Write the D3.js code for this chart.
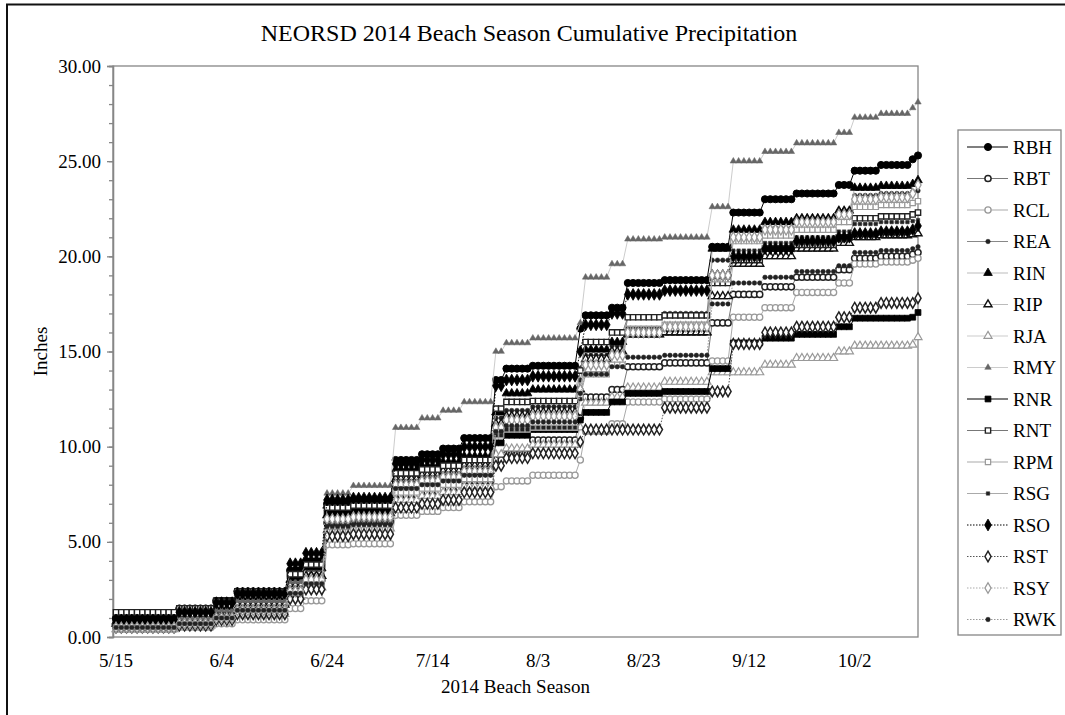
<!DOCTYPE html>
<html>
<head>
<meta charset="utf-8">
<script src="https://cdn.jsdelivr.net/npm/d3@7"></script>
<style>
  body { margin: 0; background: #fff; }
  svg { display: block; font-family: "Liberation Serif", "Times New Roman", serif; }
</style>
</head>
<body>
<script>
// gauges, in legend order
const seriesNames = ["RBH", "RBT", "RCL", "REA", "RIN", "RIP", "RJA", "RMY",
                     "RNR", "RNT", "RPM", "RSG", "RSO", "RST", "RSY", "RWK"];

const seasonStart = "2014-05-15";
const seasonEnd = "2014-10-14";

// days after 5/15 on which the totals changed
const eventDays = [0, 12, 19, 23, 33, 36, 40, 45, 53, 58, 62, 66, 72, 74, 79,
                   88, 89, 94, 97, 104, 113, 117, 123, 129, 137, 140, 145, 151, 152];

// cumulative inches from each event day on
const RBH = [1.0, 1.5, 1.9, 2.4, 3.5, 4.0, 7.0, 7.2, 9.3, 9.6, 9.9, 10.45, 13.5, 14.1, 14.25, 16.2, 16.9, 17.3, 18.6, 18.75, 20.5, 22.3, 23.0, 23.3, 23.75, 24.5, 24.8, 25.1, 25.3];
const RBT = [0.6, 0.8, 1.1, 1.5, 2.5, 3.0, 6.0, 6.05, 7.45, 7.6, 7.8, 8.2, 9.3, 9.6, 10.35, 11.5, 12.6, 13.0, 14.2, 14.4, 16.5, 18.0, 18.4, 18.9, 19.3, 19.9, 20.0, 20.1, 20.2];
const RCL = [0.4, 0.5, 0.7, 0.9, 1.5, 1.9, 4.85, 4.9, 6.4, 6.6, 6.8, 7.1, 7.9, 8.2, 8.5, 9.3, 10.8, 11.2, 12.35, 12.5, 14.5, 16.8, 17.3, 18.1, 18.6, 19.6, 19.7, 19.8, 19.9];
const REA = [0.7, 0.9, 1.3, 1.8, 2.8, 3.3, 6.6, 6.7, 8.5, 8.7, 8.9, 9.2, 11.5, 11.9, 12.1, 13.5, 14.8, 15.3, 16.8, 17.0, 19.8, 21.0, 21.5, 21.9, 22.4, 23.2, 23.3, 23.4, 23.45];
const RIN = [0.8, 1.0, 1.5, 2.0, 3.0, 3.6, 6.9, 7.0, 8.8, 9.0, 9.2, 9.5, 11.8, 12.8, 13.0, 14.0, 15.1, 15.5, 15.9, 16.0, 20.4, 21.4, 21.8, 22.0, 22.4, 23.6, 23.7, 23.8, 24.0];
const RIP = [0.7, 0.9, 1.3, 1.7, 2.7, 3.2, 6.4, 6.5, 8.3, 8.5, 8.7, 9.0, 11.2, 11.6, 11.8, 13.0, 14.6, 15.0, 15.9, 16.0, 17.9, 19.6, 20.0, 20.4, 20.7, 21.0, 21.1, 21.15, 21.2];
const RJA = [0.4, 0.6, 0.9, 1.2, 2.1, 2.6, 5.6, 5.7, 7.2, 7.4, 7.6, 7.9, 9.6, 9.9, 10.1, 11.0, 12.3, 12.6, 13.1, 13.4, 13.9, 13.9, 14.3, 14.65, 15.0, 15.3, 15.3, 15.35, 15.75];
const RMY = [0.8, 1.0, 1.4, 1.9, 2.9, 3.6, 7.55, 7.95, 11.0, 11.5, 11.9, 12.35, 15.0, 15.45, 15.7, 16.5, 18.9, 19.6, 20.9, 21.0, 22.6, 25.0, 25.5, 25.95, 26.5, 27.3, 27.5, 27.8, 28.1];
const RNR = [0.8, 1.4, 1.9, 2.3, 3.2, 3.7, 6.5, 6.6, 8.0, 8.2, 8.4, 8.7, 10.2, 10.6, 10.9, 11.4, 11.8, 12.35, 12.8, 12.9, 14.1, 15.45, 15.7, 15.9, 16.3, 16.75, 16.75, 16.8, 17.05];
const RNT = [1.3, 1.5, 1.9, 2.4, 3.3, 3.8, 6.8, 6.9, 8.6, 8.8, 9.0, 9.3, 12.0, 12.35, 12.4, 14.0, 15.5, 16.0, 16.8, 16.9, 18.6, 19.8, 20.4, 20.6, 21.0, 22.0, 22.1, 22.2, 22.3];
const RPM = [0.5, 0.6, 0.9, 1.3, 2.2, 2.8, 5.5, 5.6, 7.6, 7.8, 8.0, 8.3, 10.6, 10.9, 11.0, 12.6, 13.8, 14.3, 16.2, 16.4, 18.8, 20.8, 21.1, 21.4, 21.8, 22.6, 22.7, 22.8, 22.9];
const RSG = [0.6, 0.8, 1.2, 1.6, 2.6, 3.1, 6.0, 6.1, 8.2, 8.4, 8.6, 8.9, 10.6, 10.9, 11.0, 12.5, 14.4, 14.9, 16.2, 16.3, 18.9, 20.3, 20.7, 21.0, 21.3, 21.7, 21.8, 21.85, 21.9];
const RSO = [0.9, 1.3, 1.8, 2.3, 3.85, 4.4, 7.2, 7.3, 9.1, 9.3, 9.6, 10.0, 13.2, 13.5, 13.7, 15.0, 16.4, 17.0, 18.0, 18.2, 19.0, 20.0, 20.4, 20.8, 21.0, 21.2, 21.3, 21.4, 21.6];
const RST = [0.5, 0.6, 0.9, 1.2, 2.0, 2.5, 5.3, 5.4, 6.8, 7.0, 7.2, 7.6, 9.0, 9.4, 9.65, 10.25, 10.9, 10.9, 10.9, 12.05, 12.9, 15.4, 16.0, 16.3, 16.8, 17.3, 17.55, 17.55, 17.8];
const RSY = [0.5, 0.7, 1.0, 1.4, 2.4, 3.0, 6.2, 6.3, 8.0, 8.2, 8.4, 8.7, 11.0, 11.4, 11.6, 13.0, 14.3, 14.8, 16.0, 16.3, 19.0, 21.0, 21.4, 21.8, 22.2, 23.0, 23.1, 23.3, 23.75];
const RWK = [0.5, 0.7, 1.0, 1.4, 2.3, 2.8, 5.8, 5.9, 7.8, 8.0, 8.2, 8.5, 10.8, 11.1, 11.3, 12.8, 13.8, 14.2, 14.7, 14.8, 17.5, 18.6, 18.9, 19.2, 19.5, 20.2, 20.3, 20.4, 20.5];

const xTickLabels = ["5/15", "6/4", "6/24", "7/14", "8/3", "8/23", "9/12", "10/2"];
const yTickValues = [0, 5, 10, 15, 20, 25, 30];

const seriesValues = {RBH, RBT, RCL, REA, RIN, RIP, RJA, RMY, RNR, RNT, RPM, RSG, RSO, RST, RSY, RWK};

// marker / line look per gauge
const look = {
    RBH: {sym: d3.symbolCircle,   size: 40, fill: "#000", stroke: "#000", sw: 1,   line: "#000", dash: null},
    RBT: {sym: d3.symbolCircle,   size: 30, fill: "#fff", stroke: "#222", sw: 1.5, line: "#777", dash: null},
    RCL: {sym: d3.symbolCircle,   size: 30, fill: "#fff", stroke: "#999", sw: 1.3, line: "#aaa", dash: null},
    REA: {sym: d3.symbolCircle,   size: 16, fill: "#222", stroke: "#222", sw: 0.5, line: "#888", dash: null},
    RIN: {sym: d3.symbolTriangle, size: 32, fill: "#000", stroke: "#000", sw: 0.8, line: "#bbb", dash: null},
    RIP: {sym: d3.symbolTriangle, size: 28, fill: "#fff", stroke: "#111", sw: 1.4, line: "#bbb", dash: null},
    RJA: {sym: d3.symbolTriangle, size: 28, fill: "#fff", stroke: "#999", sw: 1.2, line: "#ccc", dash: null},
    RMY: {sym: d3.symbolTriangle, size: 18, fill: "#666", stroke: "#666", sw: 0.5, line: "#ccc", dash: null},
    RNR: {sym: d3.symbolSquare,   size: 34, fill: "#000", stroke: "#000", sw: 0.8, line: "#000", dash: null},
    RNT: {sym: d3.symbolSquare,   size: 28, fill: "#fff", stroke: "#222", sw: 1.4, line: "#777", dash: null},
    RPM: {sym: d3.symbolSquare,   size: 28, fill: "#fff", stroke: "#999", sw: 1.2, line: "#aaa", dash: null},
    RSG: {sym: d3.symbolSquare,   size: 12, fill: "#222", stroke: "#222", sw: 0.5, line: "#aaa", dash: null},
    RSO: {sym: d3.symbolDiamond,  size: 40, fill: "#000", stroke: "#000", sw: 0.8, line: "#000", dash: "1.5,1.5"},
    RST: {sym: d3.symbolDiamond,  size: 32, fill: "#fff", stroke: "#222", sw: 1.5, line: "#555", dash: "1.5,1.5"},
    RSY: {sym: d3.symbolDiamond,  size: 32, fill: "#fff", stroke: "#999", sw: 1.3, line: "#aaa", dash: "1.5,1.5"},
    RWK: {sym: d3.symbolCircle,   size: 16, fill: "#222", stroke: "#222", sw: 0.5, line: "#999", dash: "1.5,1.5"}
};

const width = 1065, height = 715;
const plot = {left: 113, right: 918, top: 66, bottom: 637};

const parseDay = d3.timeParse("%Y-%m-%d");
const start = parseDay(seasonStart);
const end = parseDay(seasonEnd);
const days = d3.timeDay.range(start, d3.timeDay.offset(end, 1));

// the total only moves on an event day, so hold it in between
const daily = levels => days.map((date, i) => ({
    date,
    value: levels[d3.bisectRight(eventDays, i) - 1]
}));

const series = seriesNames.map(name => ({name, values: daily(seriesValues[name])}));

const x = d3.scaleTime().domain([start, end]).range([116, plot.right]);
const y = d3.scaleLinear().domain([0, 30]).range([plot.bottom, plot.top]);

const svg = d3.select("body").append("svg")
    .attr("width", width)
    .attr("height", height);

// chart frame
svg.append("rect")
    .attr("x", 7).attr("y", 4.5)
    .attr("width", 1100).attr("height", 800)
    .attr("fill", "#fff")
    .attr("stroke", "#111")
    .attr("stroke-width", 2);

svg.append("text")
    .attr("x", 529).attr("y", 41)
    .attr("text-anchor", "middle")
    .style("font-size", "24px")
    .text("NEORSD 2014 Beach Season Cumulative Precipitation");

// plot box
svg.append("rect")
    .attr("x", plot.left).attr("y", plot.top)
    .attr("width", plot.right - plot.left).attr("height", plot.bottom - plot.top)
    .attr("fill", "none")
    .attr("stroke", "#868686")
    .attr("stroke-width", 1.3);

// y axis
const yAxis = svg.append("g")
    .attr("transform", `translate(${plot.left},0)`)
    .call(d3.axisLeft(y).tickValues(yTickValues).tickFormat(d3.format(".2f")).tickSize(6).tickPadding(6));
svg.append("g")
    .attr("transform", `translate(${plot.left},0)`)
    .call(d3.axisLeft(y).tickValues(d3.range(0, 31, 1)).tickFormat("").tickSize(4));
svg.selectAll(".domain, .tick line").attr("stroke", "#868686").attr("stroke-width", 1.3);
yAxis.selectAll("text").style("font-size", "19px").attr("fill", "#000")
    .style("font-family", "'Liberation Serif', 'Times New Roman', serif");

// x axis labels
const fmt = d3.timeFormat("%-m/%-d");
const xTicks = days.filter(d => xTickLabels.includes(fmt(d)));
svg.append("g").selectAll("text")
    .data(xTicks)
    .join("text")
    .attr("x", d => x(d))
    .attr("y", 667)
    .attr("text-anchor", "middle")
    .style("font-size", "19px")
    .text(d => fmt(d));

svg.append("text")
    .attr("x", (plot.left + plot.right) / 2).attr("y", 693)
    .attr("text-anchor", "middle")
    .style("font-size", "19px")
    .text("2014 Beach Season");

svg.append("text")
    .attr("transform", `translate(47,${(plot.top + plot.bottom) / 2}) rotate(-90)`)
    .attr("text-anchor", "middle")
    .style("font-size", "19px")
    .text("Inches");

// series
const line = d3.line()
    .x(d => x(d.date))
    .y(d => y(d.value));

const gauge = svg.append("g").selectAll("g")
    .data(series)
    .join("g");

gauge.append("path")
    .attr("d", d => line(d.values))
    .attr("fill", "none")
    .attr("stroke", d => look[d.name].line)
    .attr("stroke-width", 1)
    .attr("stroke-dasharray", d => look[d.name].dash);

gauge.each(function(s) {
    const st = look[s.name];
    const sym = d3.symbol(st.sym, st.size)();
    d3.select(this).selectAll(".mark")
        .data(s.values)
        .join("path")
        .attr("class", "mark")
        .attr("transform", d => `translate(${x(d.date)},${y(d.value)})`)
        .attr("d", sym)
        .attr("fill", st.fill)
        .attr("stroke", st.stroke)
        .attr("stroke-width", st.sw);
});

// legend
const legend = svg.append("g");
legend.append("rect")
    .attr("x", 958).attr("y", 130)
    .attr("width", 103).attr("height", 505)
    .attr("fill", "#fff")
    .attr("stroke", "#868686")
    .attr("stroke-width", 1.3);

const item = legend.selectAll(".item")
    .data(seriesNames)
    .join("g")
    .attr("class", "item")
    .attr("transform", (d, i) => `translate(0,${147 + i * 31.5})`);

item.append("line")
    .attr("x1", 967).attr("x2", 1008)
    .attr("stroke", d => look[d].line)
    .attr("stroke-width", 1.2)
    .attr("stroke-dasharray", d => look[d].dash);

item.append("path")
    .attr("transform", "translate(988,0)")
    .attr("d", d => d3.symbol(look[d].sym, look[d].size)())
    .attr("fill", d => look[d].fill)
    .attr("stroke", d => look[d].stroke)
    .attr("stroke-width", d => look[d].sw);

item.append("text")
    .attr("x", 1013).attr("y", 6.5)
    .style("font-size", "19px")
    .text(d => d);
</script>
</body>
</html>
